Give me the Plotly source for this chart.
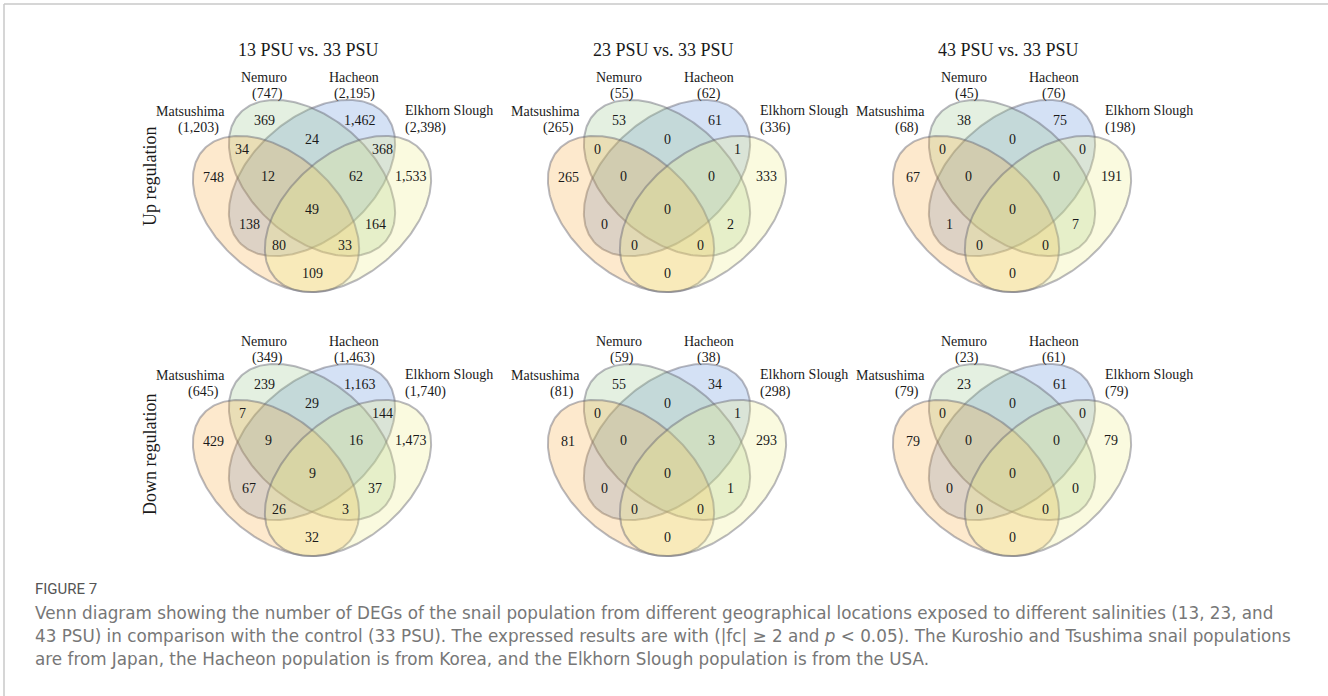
import numpy as np
import plotly.graph_objects as go

# ---------------- data ----------------
set_names = ["Matsushima", "Nemuro", "Hacheon", "Elkhorn Slough"]
column_titles = ["13 PSU vs. 33 PSU", "23 PSU vs. 33 PSU", "43 PSU vs. 33 PSU"]
row_titles = ["Up regulation", "Down regulation"]
# region order: A, B, C, D, AB, AC, AD, BC, BD, CD, ABC, ABD, ACD, BCD, ABCD
# A=Matsushima, B=Nemuro, C=Hacheon, D=Elkhorn Slough
region_keys = ["A", "B", "C", "D", "AB", "AC", "AD", "BC", "BD", "CD",
               "ABC", "ABD", "ACD", "BCD", "ABCD"]

up_13 = [748, 369, 1462, 1533, 34, 138, 109, 24, 164, 368, 12, 33, 80, 62, 49]
up_23 = [265, 53, 61, 333, 0, 0, 0, 0, 2, 1, 0, 0, 0, 0, 0]
up_43 = [67, 38, 75, 191, 0, 1, 0, 0, 7, 0, 0, 0, 0, 0, 0]
down_13 = [429, 239, 1163, 1473, 7, 67, 32, 29, 37, 144, 9, 3, 26, 16, 9]
down_23 = [81, 55, 34, 293, 0, 0, 0, 0, 1, 1, 0, 0, 0, 3, 0]
down_43 = [79, 23, 61, 79, 0, 0, 0, 0, 0, 0, 0, 0, 0, 0, 0]

tot_up_13 = [1203, 747, 2195, 2398]
tot_up_23 = [265, 55, 62, 336]
tot_up_43 = [68, 45, 76, 198]
tot_down_13 = [645, 349, 1463, 1740]
tot_down_23 = [81, 59, 38, 298]
tot_down_43 = [79, 23, 61, 79]

panels = [[up_13, up_23, up_43], [down_13, down_23, down_43]]
totals = [[tot_up_13, tot_up_23, tot_up_43], [tot_down_13, tot_down_23, tot_down_43]]

fig_label = "FIGURE 7"
caption_lines = [
    "Venn diagram showing the number of DEGs of the snail population from different geographical locations exposed to different salinities (13, 23, and",
    "43 PSU) in comparison with the control (33 PSU). The expressed results are with (|fc| \u2265 2 and <i>p</i> < 0.05). The Kuroshio and Tsushima snail populations",
    "are from Japan, the Hacheon population is from Korea, and the Elkhorn Slough population is from the USA.",
]

# ---------------- layout (pixel space) ----------------
W, H = 1328, 696
col_x = [312, 667, 1012]
row_y = [200, 464]

region_offsets = {
    "A": (-99, -23), "B": (-48, -80), "C": (48, -80), "D": (99, -24),
    "AB": (-70, -51), "AC": (-63, 24), "AD": (0, 73), "BC": (0, -61),
    "BD": (63, 24), "CD": (70, -51), "ABC": (-44, -24), "ABD": (33, 45),
    "ACD": (-33, 45), "BCD": (44, -24), "ABCD": (0, 9),
}

# congruent ellipses: (dx, dy, angle_deg in screen coords)
ell_a, ell_b = 97, 60
ellipses = [
    (-36, 14, 41),     # Matsushima
    (0, -22, 41),      # Nemuro
    (0, -22, 139),     # Hacheon
    (36, 14, 139),     # Elkhorn Slough
]
fills = ["rgba(247,167,55,0.25)", "rgba(147,195,135,0.25)",
         "rgba(83,135,215,0.25)", "rgba(235,235,135,0.27)"]
draw_order = [2, 1, 0, 3]
stroke = "rgba(100,100,112,0.45)"

serif = "Liberation Serif, Times New Roman, serif"
txt_col = "#1a1a1a"

fig = go.Figure()
ann = []

t = np.linspace(0, 2 * np.pi, 240)
for r in range(2):
    for c in range(3):
        cx, cy = col_x[c], row_y[r]
        for k in draw_order:
            dx, dy, ang = ellipses[k]
            th = np.deg2rad(ang)
            ux, uy = np.cos(th), np.sin(th)
            vx, vy = -uy, ux
            xs = cx + dx + ell_a * np.cos(t) * ux + ell_b * np.sin(t) * vx
            ys = cy + dy + ell_a * np.cos(t) * uy + ell_b * np.sin(t) * vy
            fig.add_trace(go.Scatter(x=xs, y=ys, mode="lines", fill="toself",
                                     fillcolor=fills[k],
                                     line=dict(color=stroke, width=2),
                                     hoverinfo="skip", showlegend=False))
        vals = panels[r][c]
        for key, v in zip(region_keys, vals):
            ox, oy = region_offsets[key]
            ann.append(dict(x=cx + ox, y=cy + oy, text=f"{v:,}", showarrow=False,
                            xanchor="center", yanchor="middle",
                            font=dict(family=serif, size=14, color=txt_col)))
        tots = totals[r][c]
        label_spec = [
            ((-85, -89), (-91, -72), "right"),
            ((-48, -123), (-45, -106), "center"),
            ((42, -123), (42, -106), "center"),
            ((91, -90), (91, -72), "left"),
        ]
        for k in range(4):
            (nx, ny), (tx, ty), anc = label_spec[k]
            ann.append(dict(x=cx + nx, y=cy + ny, text=set_names[k], showarrow=False,
                            xanchor=anc, yanchor="middle",
                            font=dict(family=serif, size=14, color=txt_col)))
            ann.append(dict(x=cx + tx, y=cy + ty, text=f"({tots[k]:,})", showarrow=False,
                            xanchor=anc, yanchor="middle",
                            font=dict(family=serif, size=14, color=txt_col)))
        if r == 0:
            ann.append(dict(x=cx - 4, y=50, text=column_titles[c], showarrow=False,
                            xanchor="center", yanchor="middle",
                            font=dict(family=serif, size=18, color=txt_col)))

row_label_y = [177, 455]
for r in range(2):
    ann.append(dict(x=150, y=row_label_y[r], text=row_titles[r], showarrow=False,
                    textangle=-90, xanchor="center", yanchor="middle",
                    font=dict(family=serif, size=18, color=txt_col)))

ann.append(dict(x=33, y=589, text=fig_label, showarrow=False, xanchor="left",
                yanchor="middle",
                font=dict(family="Liberation Sans Narrow, Roboto, sans-serif",
                          size=15, color="#555555")))
cap_y = [613, 636, 659]
for yy, line in zip(cap_y, caption_lines):
    ann.append(dict(x=33, y=yy, text=line, showarrow=False, xanchor="left",
                    yanchor="middle",
                    font=dict(family="DejaVu Sans, sans-serif", size=16.8, color="#777777")))

shapes = [
    dict(type="line", xref="x", yref="y", x0=4, y0=4, x1=W, y1=4,
         line=dict(color="#c8c8c8", width=1.5)),
    dict(type="line", xref="x", yref="y", x0=4, y0=4, x1=4, y1=H,
         line=dict(color="#c8c8c8", width=1.5)),
]

fig.update_layout(
    width=W, height=H, margin=dict(l=0, r=0, t=0, b=0),
    paper_bgcolor="white", plot_bgcolor="white",
    xaxis=dict(range=[0, W], visible=False, fixedrange=True),
    yaxis=dict(range=[H, 0], visible=False, fixedrange=True),
    annotations=ann, shapes=shapes, showlegend=False,
)

fig.write_html("out.html",
               config={"displayModeBar": False, "staticPlot": True},
               post_script="document.body.style.margin='0';document.body.style.overflow='hidden';")
